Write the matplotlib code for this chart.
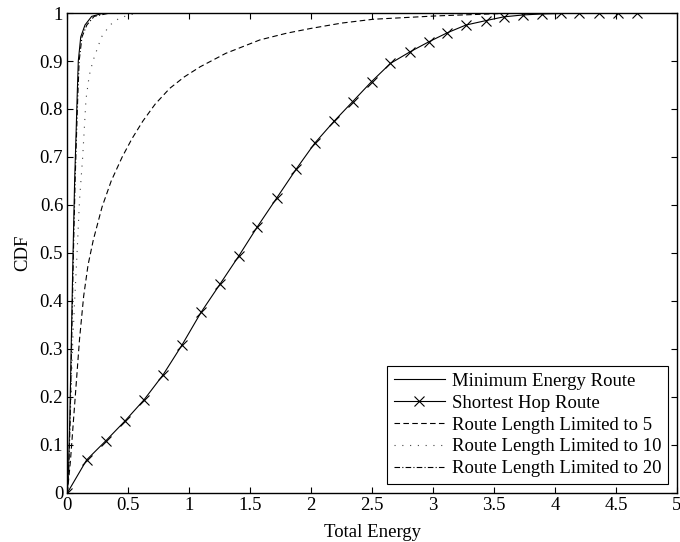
import numpy as np
import matplotlib
matplotlib.use("Agg")
import matplotlib.pyplot as plt

plt.rcParams['font.family'] = ['Liberation Serif', 'DejaVu Serif']
plt.rcParams['font.size'] = 13.5

# Minimum energy route
min_x = [0, 0.01, 0.02, 0.03, 0.04, 0.047, 0.06, 0.072, 0.08, 0.09, 0.11, 0.145, 0.2, 0.3]
min_y = [0, 0.05, 0.15, 0.28, 0.41, 0.5, 0.65, 0.75, 0.82, 0.9, 0.95, 0.975, 0.993, 1.0]

# Shortest hop route (markers)
hop_x = [0, 0.159, 0.317, 0.473, 0.629, 0.785, 0.94, 1.096, 1.252, 1.407, 1.557,
         1.716, 1.875, 2.03, 2.186, 2.339, 2.495, 2.65, 2.81, 2.965, 3.118, 3.27,
         3.43, 3.58, 3.74, 3.89, 4.05, 4.20, 4.36, 4.52, 4.67]
hop_y = [0, 0.069, 0.109, 0.150, 0.194, 0.246, 0.308, 0.376, 0.435, 0.494, 0.554,
         0.614, 0.674, 0.729, 0.774, 0.815, 0.857, 0.895, 0.919, 0.94, 0.959, 0.975,
         0.984, 0.992, 0.996, 0.998, 0.999, 1.0, 1.0, 1.0, 1.0]

# Route length limited to 5
l5_x = [0, 0.025, 0.066, 0.1, 0.134, 0.17, 0.213, 0.285, 0.36, 0.45, 0.53, 0.62, 0.72,
        0.84, 0.96, 1.09, 1.3, 1.58, 1.8, 2.0, 2.25, 2.51, 3.03, 3.57, 4.7]
l5_y = [0, 0.065, 0.204, 0.32, 0.41, 0.475, 0.527, 0.596, 0.65, 0.70, 0.738, 0.775, 0.81,
        0.843, 0.867, 0.888, 0.916, 0.944, 0.958, 0.968, 0.979, 0.987, 0.994, 0.999, 1.0]

# Route length limited to 10
l10_x = [0, 0.015, 0.03, 0.042, 0.06, 0.08, 0.1, 0.126, 0.153, 0.18, 0.21, 0.28, 0.35, 0.43, 0.57]
l10_y = [0, 0.1, 0.2, 0.3, 0.4, 0.5, 0.61, 0.7, 0.82, 0.87, 0.9, 0.95, 0.975, 0.99, 1.0]

# Route length limited to 20
l20_x = [0, 0.012, 0.023, 0.033, 0.043, 0.05, 0.064, 0.076, 0.085, 0.097, 0.12, 0.16, 0.22, 0.35]
l20_y = [0, 0.05, 0.15, 0.28, 0.41, 0.5, 0.65, 0.75, 0.82, 0.9, 0.95, 0.975, 0.993, 1.0]

fig = plt.figure(figsize=(6.8, 5.42), dpi=100)
ax = fig.add_axes([0.099, 0.0905, 0.8965, 0.8855])

lw = 0.8
ax.plot(min_x, min_y, '-', color='k', lw=lw, label='Minimum Energy Route')
ax.plot(hop_x, hop_y, '-', color='k', lw=lw, marker='x', markersize=7,
        markeredgewidth=0.8, label='Shortest Hop Route')
ax.plot(l5_x, l5_y, '--', color='k', lw=lw, dashes=(5, 3), label='Route Length Limited to 5')
ax.plot(l10_x, l10_y, ':', color='#444444', lw=lw, dashes=(1, 6), label='Route Length Limited to 10')
ax.plot(l20_x, l20_y, '-.', color='k', lw=lw, dashes=(5, 2, 1, 2), label='Route Length Limited to 20')

ax.set_xlim(0, 5)
ax.set_ylim(0, 1)
ax.set_xticks(np.arange(0, 5.01, 0.5))
ax.set_xticklabels(['0', '0.5', '1', '1.5', '2', '2.5', '3', '3.5', '4', '4.5', '5'])
ax.set_yticks(np.arange(0, 1.01, 0.1))
ax.set_yticklabels(['0', '0.1', '0.2', '0.3', '0.4', '0.5', '0.6', '0.7', '0.8', '0.9', '1'])
ax.tick_params(direction='in', top=True, right=True, length=4.5, width=0.8, labelsize=13.5, pad=3)
for s in ax.spines.values():
    s.set_linewidth(1.0)

ax.set_xlabel('Total Energy', labelpad=7)
ax.set_ylabel('CDF', labelpad=6)

leg = ax.legend(loc='lower right', bbox_to_anchor=(0.9855, 0.019), fancybox=False,
                edgecolor='k', framealpha=1, handlelength=2.7, handletextpad=0.4,
                labelspacing=0.25, borderpad=0.35, borderaxespad=0, fontsize=13.5)
leg.get_frame().set_linewidth(0.8)

fig.savefig('out.png', dpi=100)
